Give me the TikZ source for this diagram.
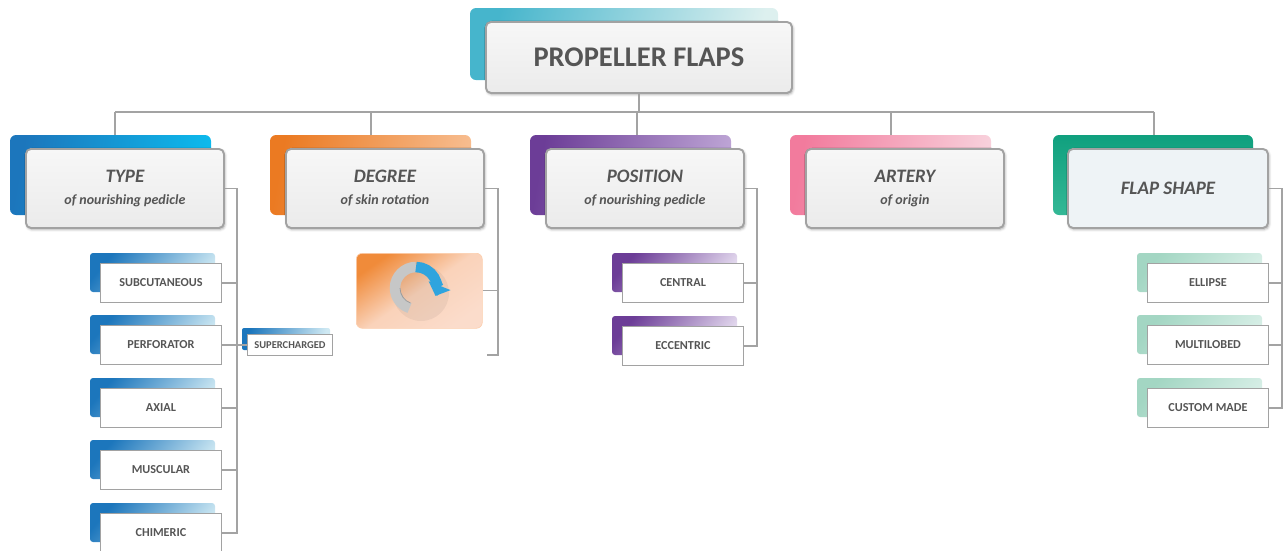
\documentclass[tikz,border=0pt]{standalone}
\usepackage{fontspec}
\setmainfont{Carlito}
\usetikzlibrary{shadows.blur,arrows.meta}
\definecolor{txt}{HTML}{555555}
\definecolor{ln}{HTML}{A3A3A3}
\definecolor{bord}{HTML}{A2A2A2}
\definecolor{boxT}{HTML}{F7F7F7}
\definecolor{boxB}{HTML}{EBEBEB}
\definecolor{typeA}{HTML}{1C76BC}
\definecolor{typeB}{HTML}{0DB9EC}
\definecolor{typeC}{HTML}{CFE9F3}
\definecolor{degA}{HTML}{EB7A22}
\definecolor{degB}{HTML}{F7BC8E}
\definecolor{posA}{HTML}{6C3D97}
\definecolor{posB}{HTML}{BCA3D4}
\definecolor{posC}{HTML}{E6DDF0}
\definecolor{artA}{HTML}{F27B9D}
\definecolor{artB}{HTML}{F8D0DB}
\definecolor{flapA}{HTML}{10A07E}
\definecolor{flapB}{HTML}{34B896}
\definecolor{flapC}{HTML}{A3D6C3}
\definecolor{flapD}{HTML}{D8EFE7}
\definecolor{flapbox}{HTML}{EEF3F6}
\definecolor{rootA}{HTML}{46B5CC}
\definecolor{rootB}{HTML}{DDF0EF}
\definecolor{imgA}{HTML}{F08B3A}
\definecolor{imgB}{HTML}{FBDCCB}
\definecolor{ringG}{HTML}{C6C7C7}
\definecolor{ringGd}{HTML}{9C9D9D}
\definecolor{ringB}{HTML}{2FA4DE}
\definecolor{ringBd}{HTML}{1C7EC2}
\tikzset{
  conn/.style={draw=ln, line width=1.1pt},
  mainbox/.style={draw=bord, line width=1.9pt, rounded corners=5pt,
    top color=boxT, bottom color=boxB, text=txt, align=center, inner sep=0pt,
    anchor=north west, font=\bfseries\itshape,
    blur shadow={shadow xshift=1pt, shadow yshift=-1.5pt, shadow blur radius=2.5pt, shadow opacity=35}},
  catbox/.style={mainbox, minimum width=198pt, minimum height=79pt},
  kid/.style={draw=bord, line width=0.9pt, fill=white, text=txt, inner sep=0pt,
    anchor=north west, font=\bfseries\fontsize{12.2}{14}\selectfont,
    minimum width=121pt, minimum height=39pt},
}
\newcommand\catsh[4]{\shade[rounded corners=6pt, left color=#3, right color=#4, shading angle=80] (#1-15,#2-13) rectangle (#1+186,#2+67);}
\newcommand\kidsh[4]{\shade[rounded corners=3pt, left color=#3, right color=#4, shading angle=50] (#1-10,#2-10) rectangle (#1+115,#2+29);}
\newcommand\cattext[2]{{\fontsize{19}{21}\selectfont #1}\\[10pt]{\fontsize{14}{16}\selectfont #2}}
\begin{document}
\begin{tikzpicture}[x=1pt,y=-1pt]
\useasboundingbox (0,0) rectangle (1283,550);

% root
\shade[rounded corners=6pt, left color=rootA, right color=rootB, shading angle=75] (470,8) rectangle (778,80);
\node[mainbox, minimum width=306pt, minimum height=71pt, font=\bfseries\fontsize{28.5}{32}\selectfont] (root) at (485,21) {PROPELLER FLAPS};

% top bus
\coordinate (busL) at (115,112);
\coordinate (busR) at (1154,112);
\coordinate (dT) at (115,135);
\coordinate (dD) at (371,135);
\coordinate (dP) at (637,135);
\coordinate (dA) at (891,135);
\coordinate (dF) at (1154,135);
\draw[conn] (root.south) -- (root.south |- busL);
\draw[conn] (busL) -- (busR);
\foreach \d in {dT,dD,dP,dA,dF} \draw[conn] (\d |- busL) -- (\d);

% category shadows and boxes
\catsh{25}{148}{typeA}{typeB}
\catsh{285}{148}{degA}{degB}
\catsh{545}{148}{posA}{posB}
\catsh{805}{148}{artA}{artB}
\shade[rounded corners=6pt, top color=flapA, bottom color=flapB] (1053,135) rectangle (1253,215);

\node[catbox] (type) at (25,148) {\cattext{TYPE}{of nourishing pedicle}};
\node[catbox] (deg) at (285,148) {\cattext{DEGREE}{of skin rotation}};
\node[catbox] (pos) at (545,148) {\cattext{POSITION}{of nourishing pedicle}};
\node[catbox] (art) at (805,148) {\cattext{ARTERY}{of origin}};
\node[catbox, minimum width=200pt, top color=flapbox, bottom color=flapbox] (flap) at (1067,148) {{\fontsize{19}{21}\selectfont FLAP SHAPE}};

% TYPE children
\kidsh{100}{263}{typeA}{typeC}
\kidsh{100}{325}{typeA}{typeC}
\kidsh{100}{388}{typeA}{typeC}
\kidsh{100}{450}{typeA}{typeC}
\kidsh{100}{513}{typeA}{typeC}
\node[kid] (sub) at (100,263) {SUBCUTANEOUS};
\node[kid] (perf) at (100,325) {PERFORATOR};
\node[kid] (axial) at (100,388) {AXIAL};
\node[kid] (musc) at (100,450) {MUSCULAR};
\node[kid] (chim) at (100,513) {CHIMERIC};
\shade[rounded corners=2pt, left color=typeA, right color=typeC, shading angle=75] (242,328) rectangle (330,350);
\node[kid, minimum width=85pt, minimum height=21pt, font=\bfseries\fontsize{10.5}{12}\selectfont] (sup) at (247,334) {SUPERCHARGED};

\coordinate (tb) at (237,188);
\draw[conn] (type.east) -- (type.east -| tb) -- (tb |- chim.east) -- (chim.east);
\foreach \n in {sub,perf,axial,musc} \draw[conn] (\n.east) -- (\n.east -| tb);
\draw[conn] (perf.east -| tb) -- (sup.west);

% DEGREE child (image)
\node[draw=imgB!85!orange, line width=0.6pt, rounded corners=6pt, left color=imgA, right color=imgB, middle color=imgB!88!imgA, shading angle=35,
      minimum width=126pt, minimum height=75pt, anchor=north west, inner sep=0pt] (img) at (356,253) {};
\coordinate (ic) at (416,288);
\fill[black, opacity=0.05] (421,293) circle (28pt);
\draw[line width=10.5pt, draw=ringG] (ic) ++(90:21pt) arc[start angle=90, end angle=252, radius=21pt];
\draw[line width=0.8pt, draw=ringGd] (ic) ++(180:16pt) arc[start angle=180, end angle=250, radius=16pt];
\draw[line width=10.5pt, draw=ringB, -{Triangle[length=11pt,width=23pt]}] (ic) ++(90:21pt) arc[start angle=90, end angle=-22, radius=21pt];
\coordinate (db) at (498,188);
\coordinate (dend) at (487,355);
\draw[conn] (deg.east) -- (deg.east -| db) -- (db |- dend) -- (dend);
\draw[conn] (img.east) -- (img.east -| db);

% POSITION children
\kidsh{622}{263}{posA}{posC}
\kidsh{622}{326}{posA}{posC}
\node[kid] (cent) at (622,263) {CENTRAL};
\node[kid] (ecc) at (622,326) {ECCENTRIC};
\coordinate (pb) at (757,188);
\draw[conn] (pos.east) -- (pos.east -| pb) -- (pb |- ecc.east) -- (ecc.east);
\draw[conn] (cent.east) -- (cent.east -| pb);

% FLAP SHAPE children
\kidsh{1147}{263}{flapC}{flapD}
\kidsh{1147}{325}{flapC}{flapD}
\kidsh{1147}{388}{flapC}{flapD}
\node[kid] (ell) at (1147,263) {ELLIPSE};
\node[kid] (multi) at (1147,325) {MULTILOBED};
\node[kid] (cust) at (1147,388) {CUSTOM MADE};
\coordinate (fb) at (1282,188);
\draw[conn] (flap.east) -- (flap.east -| fb) -- (fb |- cust.east) -- (cust.east);
\foreach \n in {ell,multi} \draw[conn] (\n.east) -- (\n.east -| fb);
\end{tikzpicture}
\end{document}
